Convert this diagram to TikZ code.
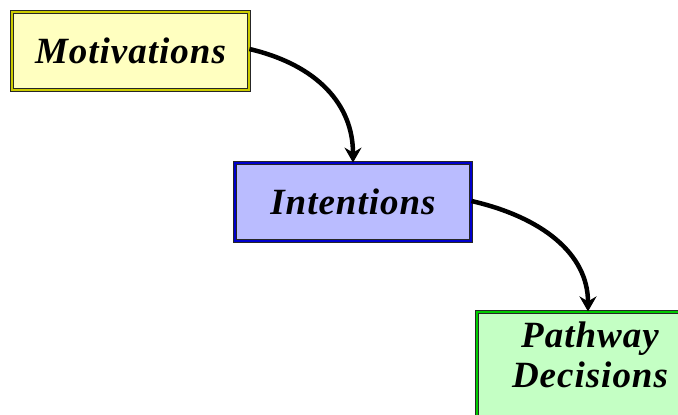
\documentclass[tikz,border=0pt]{standalone}
\usepackage{fontspec}
\setmainfont{Liberation Serif}
\newfontfamily\stagefont{Liberation Serif}[LetterSpace=2.7]
\usetikzlibrary{arrows.meta}

\definecolor{motfill}{HTML}{FFFFC0}
\definecolor{motline}{HTML}{CCCC00}
\definecolor{intfill}{HTML}{BABCFF}
\definecolor{intline}{HTML}{0000CC}
\definecolor{pathfill}{HTML}{C4FFC4}
\definecolor{pathline}{HTML}{00CC00}

\tikzset{
  labeltext/.style={font=\stagefont\fontsize{37}{40}\selectfont\bfseries\itshape, align=center, inner sep=0pt},
  framebox/.style={rectangle, inner sep=0pt, draw=black!85, line width=1.2pt,
    double distance=2pt, minimum height=77.6pt},
  flowarrow/.style={line width=4.5pt, -{Stealth[length=15pt, width=17pt, inset=5pt]}},
}

\begin{document}
\begin{tikzpicture}[x=1pt, y=-1pt]
  \useasboundingbox (0,0) rectangle (678,415);

  % the three stages
  \node (mot) [framebox, labeltext, fill=motfill, double=motline, minimum width=236.6pt]
    at (130.5,51) {Motivations};
  \node (int) [framebox, labeltext, fill=intfill, double=intline, minimum width=235.6pt]
    at (353,202) {Intentions};
  \node (pth) [framebox, fill=pathfill, double=pathline, minimum width=222.2pt, minimum height=140pt]
    at (588,382) {};
  \node (pthtext) [labeltext] at (590,354.5) {Pathway\\Decisions};

  % curved links between the stages
  \draw[flowarrow] ([yshift=2pt]mot.east) .. controls +(68,16) and +(0,-58) .. (int.north);
  \draw[flowarrow] ([yshift=1pt]int.east) .. controls +(70,16) and +(0,-58) .. (pth.north);
\end{tikzpicture}
\end{document}
